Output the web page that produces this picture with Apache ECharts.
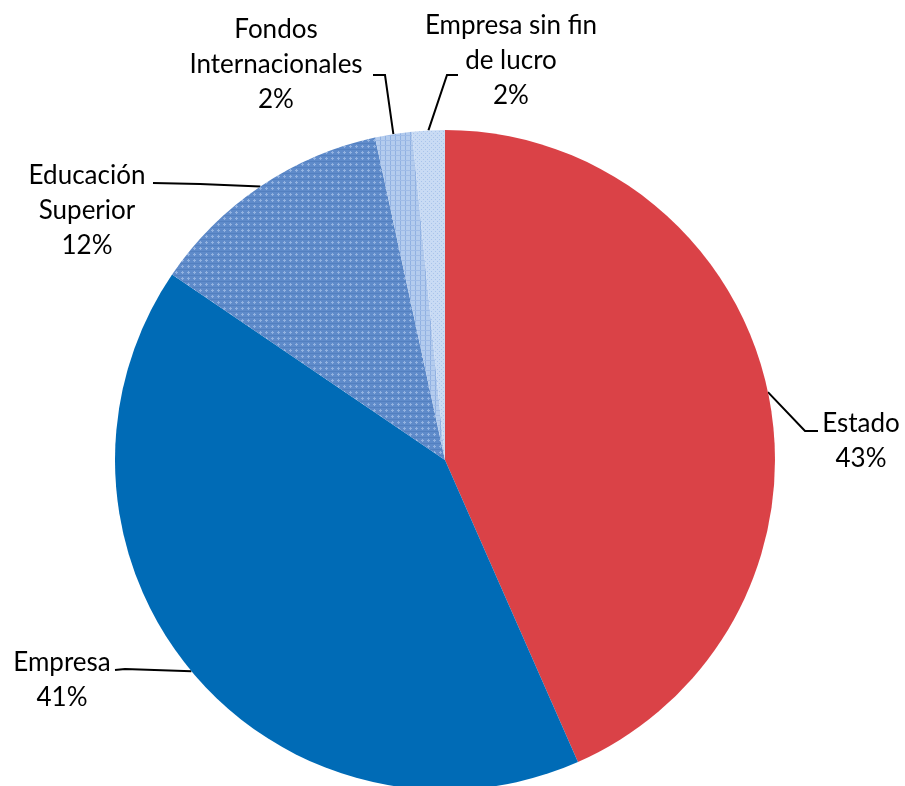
<!DOCTYPE html>
<html>
<head>
<meta charset="utf-8">
<script src="https://cdn.jsdelivr.net/npm/echarts@6/dist/echarts.min.js"></script>
<style>
    html, body { margin: 0; padding: 0; background: #fff; }
    #chart { width: 905px; height: 786px; }
</style>
</head>
<body>
<div id="chart"></div>
<script>
// datos de financiamiento
const categories = ['Estado', 'Empresa', 'Educación\nSuperior', 'Fondos\nInternacionales', 'Empresa sin fin\nde lucro'];
const values = [43.4, 41.1, 12.1, 1.8, 1.6];
const percentLabels = ['43%', '41%', '12%', '2%', '2%'];

// posicion de etiquetas (centro del bloque de texto) y puntos de la linea guia
const labelPos = [[861, 441], [62, 680], [87, 211], [276, 65], [511, 61]];
const lineBend = [[805, 431], [125, 669], [200, 184], [385, 75], [447, 75]];
const lineEnd = [[818, 431], [115, 670], [153, 183], [373, 75], [458, 75]];

function makePattern(size, base, draw) {
    const c = document.createElement('canvas');
    c.width = size;
    c.height = size;
    const ctx = c.getContext('2d');
    ctx.fillStyle = base;
    ctx.fillRect(0, 0, size, size);
    draw(ctx);
    return {image: c, repeat: 'repeat'};
}

const eduPattern = makePattern(6, '#5F8BCA', function (ctx) {
    ctx.fillStyle = '#5380C0';
    ctx.fillRect(0, 5, 6, 1);
    ctx.fillStyle = '#92B2E0';
    ctx.fillRect(2, 1, 1, 3);
    ctx.fillRect(1, 2, 3, 1);
});
const fondosPattern = makePattern(5, '#B4CCEE', function (ctx) {
    ctx.fillStyle = '#90B1E2';
    ctx.fillRect(0, 0, 1, 5);
    ctx.fillStyle = '#A0BCE7';
    ctx.fillRect(0, 0, 5, 1);
});
const esflPattern = makePattern(4, '#C9DBF4', function (ctx) {
    ctx.fillStyle = '#A9C4EB';
    ctx.fillRect(1, 1, 1, 1);
    ctx.fillRect(3, 3, 1, 1);
});

const colors = ['#DA4247', '#006BB6', eduPattern, fondosPattern, esflPattern];

let chartDom = document.getElementById('chart');
let myChart = echarts.init(chartDom);

let data = categories.map(function (name, i) {
    return {
        value: values[i],
        name: name,
        itemStyle: {color: colors[i]}
    };
});

let option = {
    animation: false,
    series: [
        {
            type: 'pie',
            center: [445, 460],
            radius: 330,
            startAngle: 90,
            clockwise: true,
            avoidLabelOverlap: false,
            itemStyle: {
                borderWidth: 0
            },
            label: {
                show: true,
                position: 'outside',
                formatter: function (p) {
                    return p.name + '\n' + percentLabels[p.dataIndex];
                },
                fontFamily: 'Lato',
                fontSize: 26,
                lineHeight: 35,
                color: '#000',
                align: 'center'
            },
            labelLine: {
                show: true,
                length: 20,
                length2: 10,
                lineStyle: {
                    color: '#000',
                    width: 2
                }
            },
            labelLayout: function (params) {
                let i = params.dataIndex;
                let start = params.labelLinePoints ? params.labelLinePoints[0] : lineBend[i];
                return {
                    x: labelPos[i][0],
                    y: labelPos[i][1],
                    align: 'center',
                    verticalAlign: 'middle',
                    labelLinePoints: [start, lineBend[i], lineEnd[i]]
                };
            },
            data: data
        }
    ]
};
option && myChart.setOption(option);
</script>
</body>
</html>
